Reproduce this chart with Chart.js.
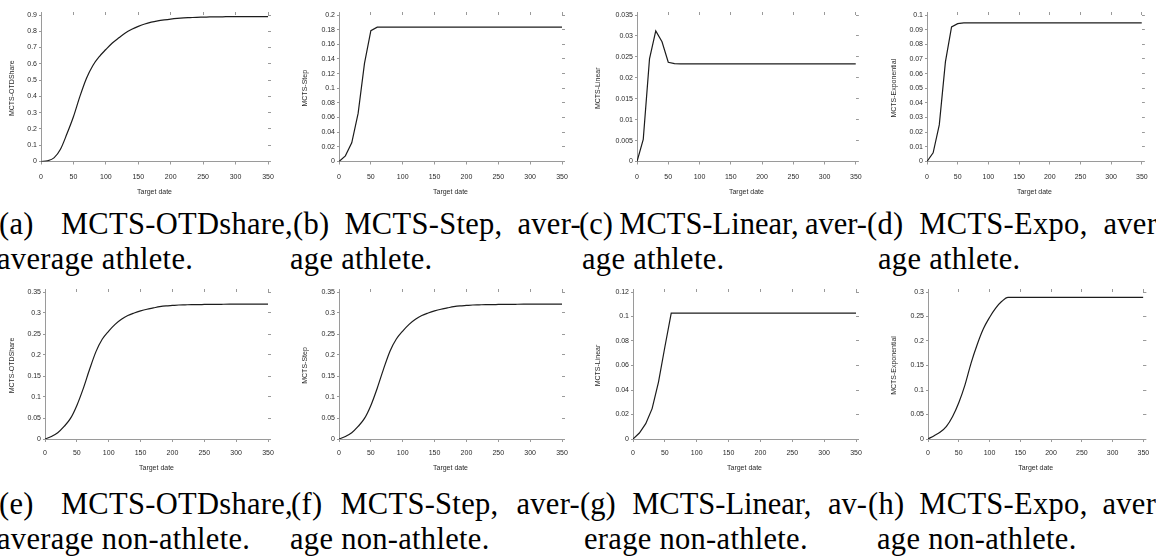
<!DOCTYPE html>
<html>
<head>
<meta charset="utf-8">
<script src="https://cdn.jsdelivr.net/npm/chart.js@4.4.1/dist/chart.umd.min.js"></script>
<style>
  html, body { margin: 0; padding: 0; background: #fff; }
  body { width: 1156px; height: 556px; overflow: hidden; position: relative; }
  .cell { position: absolute; }
  .cap { position: absolute; font-family: "Liberation Serif", "Times New Roman", serif; font-size: 30.5px; letter-spacing: 0.3px; line-height: 35px; color: #000; white-space: nowrap; }
  .l1 { display: flex; justify-content: space-between; }
  .tight { letter-spacing: 0px; }
  .cap span { white-space: nowrap; }
</style>
</head>
<body>
<script>
// ---------------- data ----------------
const xValues = [0,10,20,30,40,50,60,70,80,90,100,110,120,130,140,150,160,170,180,190,200,210,220,230,240,250,260,270,280,290,300,310,320,330,340,350];
const xTicks = [0,50,100,150,200,250,300,350];

const otdShareAthlete = [0,0.004,0.022,0.075,0.17,0.275,0.40,0.51,0.59,0.645,0.688,0.728,0.76,0.79,0.812,0.83,0.845,0.856,0.864,0.870,0.875,0.879,0.882,0.884,0.886,0.887,0.888,0.889,0.889,0.890,0.890,0.890,0.890,0.890,0.890,0.890];
const stepAthlete = [0,0.0077,0.0255,0.0656,0.134,0.1786,0.1834,0.1834,0.1834,0.1834,0.1834,0.1834,0.1834,0.1834,0.1834,0.1834,0.1834,0.1834,0.1834,0.1834,0.1834,0.1834,0.1834,0.1834,0.1834,0.1834,0.1834,0.1834,0.1834,0.1834,0.1834,0.1834,0.1834,0.1834,0.1834,0.1834];
const linearAthlete = [0,0.0053,0.0245,0.0312,0.0286,0.0237,0.0234,0.0233,0.0233,0.0233,0.0233,0.0233,0.0233,0.0233,0.0233,0.0233,0.0233,0.0233,0.0233,0.0233,0.0233,0.0233,0.0233,0.0233,0.0233,0.0233,0.0233,0.0233,0.0233,0.0233,0.0233,0.0233,0.0233,0.0233,0.0233,0.0233];
const expoAthlete = [0,0.0059,0.025,0.068,0.0919,0.0941,0.0946,0.0946,0.0946,0.0946,0.0946,0.0946,0.0946,0.0946,0.0946,0.0946,0.0946,0.0946,0.0946,0.0946,0.0946,0.0946,0.0946,0.0946,0.0946,0.0946,0.0946,0.0946,0.0946,0.0946,0.0946,0.0946,0.0946,0.0946,0.0946,0.0946];
const otdShareNonAthlete = [0,0.006,0.015,0.030,0.049,0.080,0.120,0.166,0.208,0.238,0.257,0.273,0.285,0.294,0.300,0.305,0.309,0.312,0.315,0.317,0.318,0.319,0.3195,0.320,0.320,0.3203,0.3205,0.3207,0.3208,0.3209,0.321,0.321,0.321,0.321,0.321,0.321];
const stepNonAthlete = [0,0.006,0.015,0.030,0.049,0.080,0.121,0.167,0.209,0.238,0.257,0.273,0.285,0.294,0.300,0.305,0.309,0.312,0.315,0.317,0.318,0.319,0.3195,0.320,0.320,0.3203,0.3205,0.3207,0.3208,0.3209,0.321,0.321,0.321,0.321,0.321,0.321];
const linearNonAthlete = [0,0.0049,0.0125,0.0248,0.0465,0.0751,0.1028,0.1028,0.1028,0.1028,0.1028,0.1028,0.1028,0.1028,0.1028,0.1028,0.1028,0.1028,0.1028,0.1028,0.1028,0.1028,0.1028,0.1028,0.1028,0.1028,0.1028,0.1028,0.1028,0.1028,0.1028,0.1028,0.1028,0.1028,0.1028,0.1028];
const expoNonAthlete = [0,0.0068,0.0143,0.026,0.046,0.074,0.110,0.155,0.193,0.225,0.248,0.267,0.281,0.289,0.289,0.289,0.289,0.289,0.289,0.289,0.289,0.289,0.289,0.289,0.289,0.289,0.289,0.289,0.289,0.289,0.289,0.289,0.289,0.289,0.289,0.289];

const yTicksOtdAthlete = [0,0.1,0.2,0.3,0.4,0.5,0.6,0.7,0.8,0.9];
const yTicksStepAthlete = [0,0.02,0.04,0.06,0.08,0.1,0.12,0.14,0.16,0.18,0.2];
const yTicksLinearAthlete = [0,0.005,0.01,0.015,0.02,0.025,0.03,0.035];
const yTicksExpoAthlete = [0,0.01,0.02,0.03,0.04,0.05,0.06,0.07,0.08,0.09,0.1];
const yTicksOtdNon = [0,0.05,0.1,0.15,0.2,0.25,0.3,0.35];
const yTicksStepNon = [0,0.05,0.1,0.15,0.2,0.25,0.3,0.35];
const yTicksLinearNon = [0,0.02,0.04,0.06,0.08,0.1,0.12];
const yTicksExpoNon = [0,0.05,0.1,0.15,0.2,0.25,0.3];

const yTitles = ['MCTS-OTDShare','MCTS-Step','MCTS-Linear','MCTS-Exponential','MCTS-OTDShare','MCTS-Step','MCTS-Linear','MCTS-Exponential'];
const xTitle = 'Target date';

// ---------------- layout ----------------
const AXIS = '#9a9a9a', TEXT = '#2a2a2a', LINE = '#1c1c1c';
const FONT = { family: '"Liberation Sans", Arial, sans-serif', size: 7 };
const LH = FONT.size * 1.2;

const row1 = { top: 0, height: 205, aTop: 15, aBottom: 161.5, xTitleY: 192, lblC: 177 };
const row2 = { top: 280, height: 195, aTop: 292, aBottom: 439, xTitleY: 468, lblC: 453 };

const panels = [
  { row: row1, left: 0,   aL: 41,  aR: 268,  yT: 12,  data: otdShareAthlete,    ticks: yTicksOtdAthlete,    smooth: true },
  { row: row1, left: 290, aL: 339, aR: 562,  yT: 305, data: stepAthlete,        ticks: yTicksStepAthlete,   smooth: false },
  { row: row1, left: 580, aL: 637, aR: 856,  yT: 598, data: linearAthlete,      ticks: yTicksLinearAthlete, smooth: false },
  { row: row1, left: 866, aL: 927, aR: 1150, yT: 894, data: expoAthlete,        ticks: yTicksExpoAthlete,   smooth: false },
  { row: row2, left: 0,   aL: 45,  aR: 268,  yT: 12,  data: otdShareNonAthlete, ticks: yTicksOtdNon,        smooth: true },
  { row: row2, left: 290, aL: 339, aR: 562,  yT: 305, data: stepNonAthlete,     ticks: yTicksStepNon,       smooth: true },
  { row: row2, left: 580, aL: 633, aR: 856,  yT: 598, data: linearNonAthlete,   ticks: yTicksLinearNon,     smooth: false },
  { row: row2, left: 866, aL: 928, aR: 1150, yT: 894, data: expoNonAthlete,     ticks: yTicksExpoNon,       smooth: true }
];

const fmt = v => String(+(+v).toFixed(6));

panels.forEach((p, i) => {
  const W = 290, H = p.row.height;
  const div = document.createElement('div');
  div.className = 'cell';
  div.style.left = p.left + 'px';
  div.style.top = p.row.top + 'px';
  div.style.width = W + 'px';
  div.style.height = H + 'px';
  const cv = document.createElement('canvas');
  cv.width = W; cv.height = H;
  cv.style.width = W + 'px'; cv.style.height = H + 'px';
  div.appendChild(cv);
  document.body.appendChild(div);

  const aTop = p.row.aTop - p.row.top;
  const aBottom = p.row.aBottom - p.row.top;
  const aL = p.aL - p.left, aR = p.aR - p.left;
  const xTL = 3, yTL = 2;
  const xPad = (p.row.lblC - p.row.aBottom) - xTL - LH / 2;
  const yMax = p.ticks[p.ticks.length - 1];
  const setX = s => { s.ticks = xTicks.map(v => ({ value: v })); };
  const setY = s => { s.ticks = p.ticks.map(v => ({ value: v })); };

  new Chart(cv, {
    type: 'line',
    data: {
      datasets: [{
        data: xValues.map((x, k) => ({ x: x, y: p.data[k] })),
        borderColor: LINE,
        borderWidth: 1.2,
        pointRadius: 0,
        fill: false,
        tension: p.smooth ? 0.4 : 0,
        cubicInterpolationMode: p.smooth ? 'monotone' : 'default'
      }]
    },
    options: {
      responsive: false,
      animation: false,
      devicePixelRatio: 1,
      layout: { padding: 0 },
      plugins: { legend: { display: false }, tooltip: { enabled: false } },
      scales: {
        x: {
          type: 'linear', position: 'bottom', min: 0, max: 350,
          afterBuildTicks: setX,
          afterFit: s => { s.height = H - aBottom; },
          ticks: { font: FONT, color: TEXT, padding: xPad, maxRotation: 0, callback: fmt },
          grid: { drawOnChartArea: false, drawTicks: true, tickLength: xTL, color: AXIS, lineWidth: 1 },
          border: { display: true, color: AXIS, width: 1 },
          title: { display: true, text: xTitle, font: FONT, color: TEXT, padding: { top: 0, bottom: (H - (p.row.xTitleY - p.row.top)) - LH / 2 } }
        },
        x2: {
          type: 'linear', axis: 'x', position: 'top', min: 0, max: 350,
          afterBuildTicks: setX,
          afterFit: s => { s.height = aTop; },
          ticks: { display: false },
          grid: { drawOnChartArea: false, drawTicks: true, tickLength: 3, color: AXIS, lineWidth: 1 },
          border: { display: false }
        },
        y: {
          type: 'linear', position: 'left', min: 0, max: yMax,
          afterBuildTicks: setY,
          afterFit: s => { s.width = aL; },
          ticks: { font: FONT, color: TEXT, padding: 2, callback: fmt },
          grid: { drawOnChartArea: false, drawTicks: true, tickLength: yTL, color: AXIS, lineWidth: 1 },
          border: { display: true, color: AXIS, width: 1 },
          title: { display: true, text: yTitles[i], font: FONT, color: TEXT, padding: { top: (p.yT - p.left) - LH / 2, bottom: 0 } }
        },
        y2: {
          type: 'linear', axis: 'y', position: 'right', min: 0, max: yMax,
          afterBuildTicks: setY,
          afterFit: s => { s.width = W - aR; },
          ticks: { display: false },
          grid: { drawOnChartArea: false, drawTicks: true, tickLength: 3, color: AXIS, lineWidth: 1 },
          border: { display: false }
        }
      }
    }
  });
});
</script>

<!-- captions row 1 -->
<div class="cap" style="left:-1px; top:207px;">
  <div class="l1" style="width:294px;"><span>(a)</span><span>MCTS-OTDshare,</span></div>
  <div style="margin-left:-2px;">average athlete.</div>
</div>
<div class="cap" style="left:293px; top:207px;">
  <div class="l1" style="width:288px;"><span>(b)</span><span>MCTS-Step,</span><span>aver-</span></div>
  <div style="margin-left:-3px;">age athlete.</div>
</div>
<div class="cap" style="left:579px; top:207px;">
  <div class="l1 tight" style="width:288px;"><span>(c)</span><span>MCTS-Linear,</span><span>aver-</span></div>
  <div style="margin-left:3px;">age athlete.</div>
</div>
<div class="cap" style="left:867px; top:207px;">
  <div class="l1" style="width:300px;"><span>(d)</span><span>MCTS-Expo,</span><span>aver-</span></div>
  <div style="margin-left:11px;">age athlete.</div>
</div>

<!-- captions row 2 -->
<div class="cap" style="left:-1px; top:487px;">
  <div class="l1" style="width:294px;"><span>(e)</span><span>MCTS-OTDshare,</span></div>
  <div style="margin-left:-2px;">average non-athlete.</div>
</div>
<div class="cap" style="left:291px; top:487px;">
  <div class="l1" style="width:289px;"><span>(f)</span><span>MCTS-Step,</span><span>aver-</span></div>
  <div style="margin-left:-1px;">age non-athlete.</div>
</div>
<div class="cap" style="left:580px; top:487px;">
  <div class="l1 tight" style="width:287px;"><span>(g)</span><span>MCTS-Linear,</span><span>av-</span></div>
  <div style="margin-left:4px;">erage non-athlete.</div>
</div>
<div class="cap" style="left:868px; top:487px;">
  <div class="l1" style="width:298px;"><span>(h)</span><span>MCTS-Expo,</span><span>aver-</span></div>
  <div style="margin-left:9px;">age non-athlete.</div>
</div>
</body>
</html>
